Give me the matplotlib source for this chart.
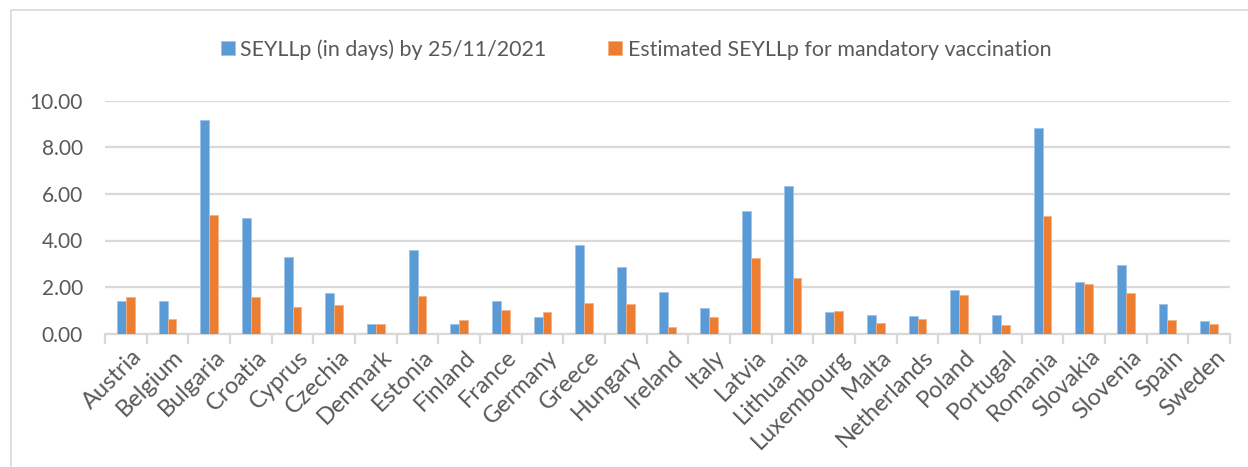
import matplotlib
matplotlib.use("Agg")
import matplotlib.pyplot as plt
import matplotlib.transforms as mtransforms
import numpy as np
from matplotlib.patches import Rectangle

# --- Data ---
countries = ["Austria", "Belgium", "Bulgaria", "Croatia", "Cyprus", "Czechia",
             "Denmark", "Estonia", "Finland", "France", "Germany", "Greece",
             "Hungary", "Ireland", "Italy", "Latvia", "Lithuania", "Luxembourg",
             "Malta", "Netherlands", "Poland", "Portugal", "Romania", "Slovakia",
             "Slovenia", "Spain", "Sweden"]
seyllp_2021 = [1.39, 1.40, 9.17, 4.96, 3.28, 1.76, 0.41, 3.59, 0.40, 1.39,
               0.73, 3.81, 2.85, 1.77, 1.12, 5.28, 6.32, 0.92, 0.79, 0.77,
               1.86, 0.80, 8.83, 2.20, 2.93, 1.26, 0.53]
seyllp_mandatory = [1.56, 0.62, 5.11, 1.56, 1.14, 1.22, 0.41, 1.60, 0.59, 1.00,
                    0.92, 1.30, 1.26, 0.30, 0.70, 3.23, 2.40, 0.97, 0.44, 0.63,
                    1.66, 0.37, 5.04, 2.13, 1.75, 0.59, 0.41]
series_labels = ["SEYLLp (in days) by 25/11/2021",
                 "Estimated SEYLLp for mandatory vaccination"]

BLUE = "#5B9BD5"
ORANGE = "#ED7D31"
GRID = "#D9D9D9"
TEXT = "#595959"

plt.rcParams["font.family"] = ["Lato", "DejaVu Sans"]

fig = plt.figure(figsize=(12.48, 4.67), dpi=100)
W, H = 1248, 467

# outer chart border (Excel style)
fig.patches.append(Rectangle((11 / W, -0.1), 1.2, (H - 10) / H + 0.1,
                             transform=fig.transFigure, fill=False,
                             edgecolor=GRID, linewidth=1.2))

ax = fig.add_axes([105 / W, (H - 333.7) / H, (1230 - 105) / W, (333.7 - 100.7) / H])

x = np.arange(len(countries))
bw = 0.21
ax.bar(x - bw / 2, seyllp_2021, width=bw, color=BLUE, label=series_labels[0],
       edgecolor="#9DC3E6", linewidth=0.6, zorder=3)
ax.bar(x + bw / 2, seyllp_mandatory, width=bw, color=ORANGE, label=series_labels[1],
       edgecolor="#F4B183", linewidth=0.6, zorder=3)

ax.set_xlim(-0.5, len(countries) - 0.5)
ax.set_ylim(0, 10)
ax.set_yticks(np.arange(0, 10.01, 2))
ax.set_yticklabels([f"{v:.2f}" for v in np.arange(0, 10.01, 2)])
ax.yaxis.grid(True, color=GRID, linewidth=1.6, zorder=0)
ax.set_axisbelow(True)

for s in ["top", "right", "left"]:
    ax.spines[s].set_visible(False)
ax.spines["bottom"].set_color(GRID)
ax.spines["bottom"].set_linewidth(1.6)

ax.tick_params(axis="y", length=0, pad=16, labelsize=15, labelcolor=TEXT)

# category labels at centres, tick marks at category boundaries
ax.set_xticks(x)
ax.set_xticklabels(countries, rotation=45, ha="right", rotation_mode="anchor",
                   fontsize=17, color=TEXT)
ax.tick_params(axis="x", length=0, pad=9)
shift = mtransforms.ScaledTranslation(5 / 100, 0, fig.dpi_scale_trans)
for lbl in ax.get_xticklabels():
    lbl.set_transform(lbl.get_transform() + shift)
ax.set_xticks(np.arange(-0.5, len(countries), 1), minor=True)
ax.tick_params(axis="x", which="minor", length=7, width=1.6, color=GRID)

fig.legend(loc="center", bbox_to_anchor=(636 / W, 1 - 49.5 / H),
           bbox_transform=fig.transFigure, ncol=2, frameon=False,
           fontsize=15.4, labelcolor=TEXT, handlelength=0.65, handleheight=0.62,
           handletextpad=0.25, columnspacing=2.9)

fig.savefig("out.png", dpi=100)
